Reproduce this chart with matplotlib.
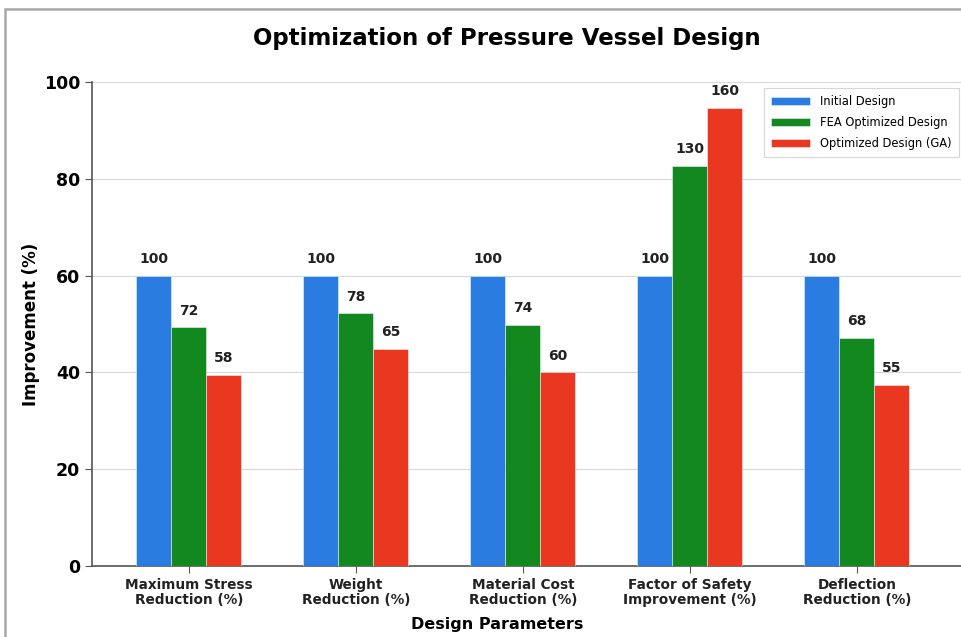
import matplotlib
matplotlib.use("Agg")
import matplotlib.pyplot as plt
import numpy as np
from matplotlib.patches import Rectangle

plt.rcParams['font.family'] = ['DejaVu Sans']

categories = ["Maximum Stress\nReduction (%)", "Weight\nReduction (%)",
              "Material Cost\nReduction (%)", "Factor of Safety\nImprovement (%)",
              "Deflection\nReduction (%)"]
series_names = ["Initial Design", "FEA Optimized Design", "Optimized Design (GA)"]
# bar heights as drawn
initial = [60, 60, 60, 60, 60]
fea = [49.3, 52.2, 49.8, 82.7, 47.2]
ga = [39.5, 44.8, 40.0, 94.6, 37.5]
# value labels as printed above the bars
initial_labels = ["100", "100", "100", "100", "100"]
fea_labels = ["72", "78", "74", "130", "68"]
ga_labels = ["58", "65", "60", "160", "55"]
yticks = [0, 20, 40, 60, 80, 100]

colors = ["#2a7ce0", "#12881f", "#e9381f"]

W, H = 961, 637
fig = plt.figure(figsize=(W / 100, H / 100), dpi=100)
fig.patch.set_facecolor("white")
fig.patches.append(Rectangle((5 / W, -0.1), 1.2, (H - 9) / H + 0.1, transform=fig.transFigure,
                             fill=False, edgecolor="#a8a8a8", linewidth=1.8, zorder=0))

ax = fig.add_axes([92 / W, 71 / H, (963 - 92) / W, 484 / H])
x = np.arange(len(categories))
w = 0.21
for i, (vals, labs) in enumerate(zip([initial, fea, ga], [initial_labels, fea_labels, ga_labels])):
    bars = ax.bar(x + (i - 1) * w, vals, w, color=colors[i], edgecolor="#e8f4ff",
                  linewidth=0.4, label=series_names[i], zorder=3)
    for b, lab in zip(bars, labs):
        ax.annotate(lab, (b.get_x() + b.get_width() / 2, b.get_height()),
                    xytext=(0, 7), textcoords="offset points", ha="center", va="bottom",
                    fontsize=10, fontweight="bold", color="#222222", zorder=4)

ax.set_xlim(-0.58, -0.58 + (963 - 92) / 167)
ax.set_ylim(0, 100)
ax.set_yticks(yticks)
ax.set_yticklabels([str(t) for t in yticks], fontsize=12.5, fontweight="bold")
ax.set_xticks(x)
ax.set_xticklabels(categories, fontsize=9.8, fontweight="bold", color="#222222",
                   linespacing=1.1)
ax.grid(axis="y", color="#d8d8d8", linewidth=0.8, zorder=0)
ax.set_axisbelow(True)
for s in ["top", "right"]:
    ax.spines[s].set_visible(False)
for s in ["left", "bottom"]:
    ax.spines[s].set_color("#555555")
    ax.spines[s].set_linewidth(1.2)
ax.tick_params(axis="both", color="#555555", length=5)

ax.set_ylabel("Improvement (%)", fontsize=12, fontweight="bold")
ax.yaxis.set_label_coords(-0.06, 0.5)
ax.set_xlabel("Design Parameters", fontsize=11.5, fontweight="bold")
ax.xaxis.set_label_coords((497 - 92) / 871, -0.105)
ax.set_title("Optimization of Pressure Vessel Design", fontsize=16.5, fontweight="bold",
             x=(507 - 92) / 871, y=1.0, pad=27)

leg = ax.legend(loc="upper right", bbox_to_anchor=(959 / W, 1 - 88 / H),
                bbox_transform=fig.transFigure, borderaxespad=0, fontsize=8.3, frameon=True,
                handlelength=3.4, handleheight=0.6, borderpad=0.6, labelspacing=0.7,
                handletextpad=0.9, fancybox=False, edgecolor="#cccccc")
leg.get_frame().set_linewidth(0.8)

fig.savefig("out.png", dpi=100)
